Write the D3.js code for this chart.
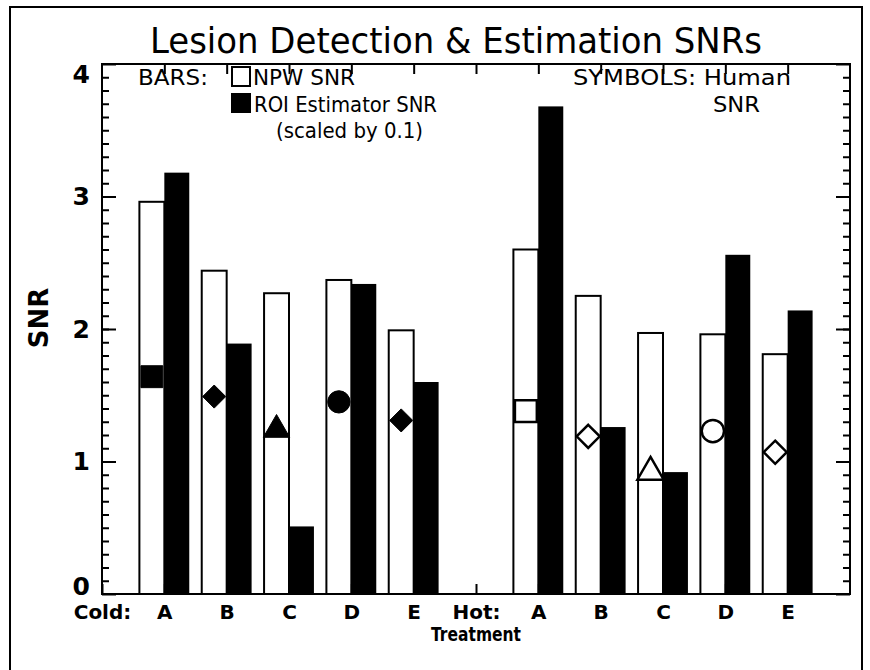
<!DOCTYPE html>
<html>
<head>
<meta charset="utf-8">
<script src="https://cdn.jsdelivr.net/npm/d3@7"></script>
<style>
  body { margin: 0; background: #fff; }
  svg text { font-family: "DejaVu Sans", sans-serif; fill: #000; }
  .tick line { stroke: #000; stroke-width: 2; }
</style>
</head>
<body>
<div id="chart"></div>
<script>
var svgWidth = 870;
var svgHeight = 670;

// x positions: index 0..11 labelled, 12 = right edge
var tickLabels = ["Cold:", "A", "B", "C", "D", "E", "Hot:", "A", "B", "C", "D", "E"];
var treatments = ["A", "B", "C", "D", "E"];

// cold lesions
var coldNPW = [2.96, 2.44, 2.27, 2.37, 1.99];
var coldROI = [3.18, 1.89, 0.51, 2.34, 1.60];
var coldHuman = [1.64, 1.49, 1.24, 1.45, 1.31];

// hot lesions
var hotNPW = [2.60, 2.25, 1.97, 1.96, 1.81];
var hotROI = [3.68, 1.26, 0.92, 2.56, 2.14];
var hotHuman = [1.38, 1.19, 0.92, 1.23, 1.07];

var yTicks = [0, 1, 2, 3, 4];
var yMinor = d3.range(1, 40).map(i => i / 10);

var plot = { left: 102, right: 850, top: 64, bottom: 594 };

var svg = d3.select("#chart")
    .append("svg")
    .attr("width", svgWidth)
    .attr("height", svgHeight);

var x = d3.scaleLinear().domain([0, 12]).range([plot.left, plot.right]);
var y = d3.scaleLinear().domain([0, 4]).range([plot.bottom, plot.top]);

// outer frame
svg.append("rect")
    .attr("x", 10).attr("y", 7)
    .attr("width", 852).attr("height", 670)
    .attr("fill", "none").attr("stroke", "#000").attr("stroke-width", 2);

// title
svg.append("text")
    .attr("x", 456).attr("y", 53)
    .attr("text-anchor", "middle")
    .attr("textLength", 612)
    .attr("lengthAdjust", "spacingAndGlyphs")
    .style("font-size", "35px")
    .text("Lesion Detection & Estimation SNRs");

// build a flat table from the arrays
var rows = [];
treatments.forEach(function(t, i) {
    rows.push({ pos: i + 1, npw: coldNPW[i], roi: coldROI[i], human: coldHuman[i], hot: false, shape: i });
});
treatments.forEach(function(t, i) {
    rows.push({ pos: i + 7, npw: hotNPW[i], roi: hotROI[i], human: hotHuman[i], hot: true, shape: i });
});

var barW = x(0.4) - x(0);

// NPW bars (open)
svg.selectAll(".npw")
    .data(rows)
    .enter()
    .append("rect")
    .attr("class", "npw")
    .attr("x", d => x(d.pos) - barW)
    .attr("y", d => y(d.npw))
    .attr("width", barW)
    .attr("height", d => y(0) - y(d.npw))
    .attr("fill", "#fff")
    .attr("stroke", "#000")
    .attr("stroke-width", 2);

// ROI bars (solid)
svg.selectAll(".roi")
    .data(rows)
    .enter()
    .append("rect")
    .attr("class", "roi")
    .attr("x", d => x(d.pos))
    .attr("y", d => y(d.roi))
    .attr("width", barW)
    .attr("height", d => y(0) - y(d.roi))
    .attr("fill", "#000");

// human SNR symbols
var symbolTypes = [d3.symbolSquare, d3.symbolDiamond2, d3.symbolTriangle, d3.symbolCircle, d3.symbolDiamond2];
var symbolSizes = [480, 340, 300, 390, 340];

svg.selectAll(".human")
    .data(rows)
    .enter()
    .append("path")
    .attr("class", "human")
    .attr("transform", d => `translate(${x(d.pos) - barW / 2}, ${y(d.human)})`)
    .attr("d", d => d3.symbol().type(symbolTypes[d.shape]).size(symbolSizes[d.shape])())
    .attr("fill", d => d.hot ? "#fff" : "#000")
    .attr("stroke", "#000")
    .attr("stroke-width", d => d.hot ? 2.5 : 1);

// axes
var leftAxis = d3.axisLeft(y).tickValues(yTicks).tickFormat(d3.format("d"))
    .tickSizeInner(-14).tickSizeOuter(0).tickPadding(12);
var leftMinor = d3.axisLeft(y).tickValues(yMinor).tickFormat("").tickSizeInner(-7).tickSizeOuter(0);
var rightAxis = d3.axisRight(y).tickValues(yTicks).tickFormat("").tickSizeInner(-14).tickSizeOuter(0);
var rightMinor = d3.axisRight(y).tickValues(yMinor).tickFormat("").tickSizeInner(-7).tickSizeOuter(0);
var topAxis = d3.axisTop(x).tickValues(d3.range(1, 12)).tickFormat("").tickSizeInner(-10).tickSizeOuter(0);
var bottomAxis = d3.axisBottom(x).tickValues(d3.range(0, 12)).tickFormat(i => tickLabels[i])
    .tickSizeInner(-10).tickSizeOuter(0).tickPadding(11);

svg.append("g").attr("transform", `translate(${plot.left},0)`).call(leftMinor);
svg.append("g").attr("transform", `translate(${plot.right},0)`).call(rightMinor);
svg.append("g").attr("transform", `translate(${plot.right},0)`).call(rightAxis);
svg.append("g").attr("transform", `translate(0,${plot.top})`).call(topAxis);

var yAxisG = svg.append("g").attr("transform", `translate(${plot.left},0)`).call(leftAxis);
// end labels sit inside the frame, as in the original
yAxisG.selectAll("text")
    .style("font-size", "25px").style("font-weight", "bold")
    .attr("x", -12)
    .attr("y", d => d === 4 ? 10 : (d === 0 ? -8 : 0));

var xAxisG = svg.append("g").attr("transform", `translate(0,${plot.bottom})`).call(bottomAxis);
xAxisG.selectAll("text")
    .style("font-size", "20px").style("font-weight", "bold");

svg.selectAll(".domain").remove();

// plot frame
svg.append("rect")
    .attr("x", plot.left).attr("y", plot.top)
    .attr("width", plot.right - plot.left).attr("height", plot.bottom - plot.top)
    .attr("fill", "none").attr("stroke", "#000").attr("stroke-width", 2);

// axis titles
svg.append("text")
    .attr("transform", "rotate(-90)")
    .attr("x", -318).attr("y", 48)
    .attr("text-anchor", "middle")
    .style("font-size", "26px").style("font-weight", "bold")
    .text("SNR");

svg.append("text")
    .attr("x", x(6)).attr("y", 641)
    .attr("text-anchor", "middle")
    .attr("textLength", 90)
    .attr("lengthAdjust", "spacingAndGlyphs")
    .style("font-size", "19px").style("font-weight", "bold")
    .text("Treatment");

// legend
var legendItems = [
    { label: "BARS:", x: 138, y: 85, len: 70 },
    { label: "NPW SNR", x: 253, y: 85, len: 102 },
    { label: "ROI Estimator SNR", x: 254, y: 112, len: 183 },
    { label: "(scaled by 0.1)", x: 276, y: 138, len: 147 },
    { label: "SYMBOLS: Human", x: 573, y: 85, len: 218 },
    { label: "SNR", x: 713, y: 112, len: 47 }
];
var legend = svg.append("g").style("font-size", "22px");
legend.selectAll("text")
    .data(legendItems)
    .enter()
    .append("text")
    .attr("x", d => d.x).attr("y", d => d.y)
    .attr("textLength", d => d.len)
    .attr("lengthAdjust", "spacingAndGlyphs")
    .text(d => d.label);

legend.append("rect").attr("x", 232).attr("y", 67).attr("width", 18).attr("height", 19)
    .attr("fill", "#fff").attr("stroke", "#000").attr("stroke-width", 2);
legend.append("rect").attr("x", 231).attr("y", 93).attr("width", 20).attr("height", 20)
    .attr("fill", "#000");
</script>
</body>
</html>
